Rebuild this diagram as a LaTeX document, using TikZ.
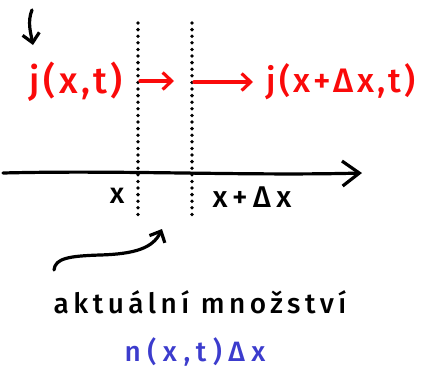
\documentclass[tikz,border=0pt]{standalone}
\usepackage{fontspec}
\setmainfont{Fira Sans}
\newfontfamily\handfont{Fira Sans Medium}
\usetikzlibrary{arrows.meta}
\definecolor{fluxred}{RGB}{250,10,10}
\definecolor{amountblue}{RGB}{60,60,205}

\begin{document}
\begin{tikzpicture}[x=1pt,y=-1pt,
  hand/.style={line width=3.2pt,line cap=round,line join=round},
  smalltip/.style={-{Straight Barb[length=9pt,width=17pt,line width=3.2pt]}},
  bigtip/.style={-{Straight Barb[length=17pt,width=25pt,line width=3.2pt]}},
  slice/.style={line width=3.8pt,line cap=round,dash pattern=on 0pt off 6.6pt},
  lab/.style 2 args={font={\handfont\fontsize{#1}{#1}\selectfont\addfontfeatures{LetterSpace=#2}}}]
  \useasboundingbox (0,0) rectangle (423,370);
  % labels
  \node[lab={37}{10},text=fluxred] (jin) at (76,82) {j(x,t)};
  \node[lab={34}{10},text=fluxred] (jout) at (341,82) {j(x+Δx,t)};
  \node[lab={29}{0}] (xa) at (117,196) {x};
  \node[lab={30}{19}] (xb) at (252,197) {x+Δx};
  \node[lab={28}{16}] (what) at (200,302) {aktuální množství};
  \node[lab={28}{23},text=amountblue] (amount) at (195,352) {n(x,t)Δx};
  % the slice and the axis
  \coordinate (s1top) at (138,23);
  \coordinate (s1bot) at (138,220);
  \coordinate (s2top) at (192,23);
  \coordinate (s2bot) at (192,220);
  \coordinate (axl) at (3,173);
  \coordinate (axr) at (362,173);
  \draw[slice] (s1top) -- (s1bot);
  \draw[slice] (s2top) -- (s2bot);
  \draw[hand,bigtip] (axl) .. controls (120,170) and (250,176) .. (axr);
  % flux arrows
  \coordinate (f1a) at (140,81);
  \coordinate (f1b) at (174,81);
  \coordinate (f2a) at (194,82);
  \coordinate (f2b) at (253,82);
  \draw[hand,smalltip,fluxred] (f1a) -- (f1b);
  \draw[hand,smalltip,fluxred] (f2a) -- (f2b);
  % pointers
  \coordinate (p0) at (32,10);
  \coordinate (p1) at (33,45);
  \draw[hand,smalltip] (p0) .. controls (27,22) and (31,34) .. (p1);
  \coordinate (c0) at (54,270);
  \coordinate (c1) at (162,229);
  \draw[hand,smalltip] (c0) .. controls (55,258) and (70,256) .. (100,255)
    .. controls (135,254) and (153,248) .. (c1);
\end{tikzpicture}
\end{document}
